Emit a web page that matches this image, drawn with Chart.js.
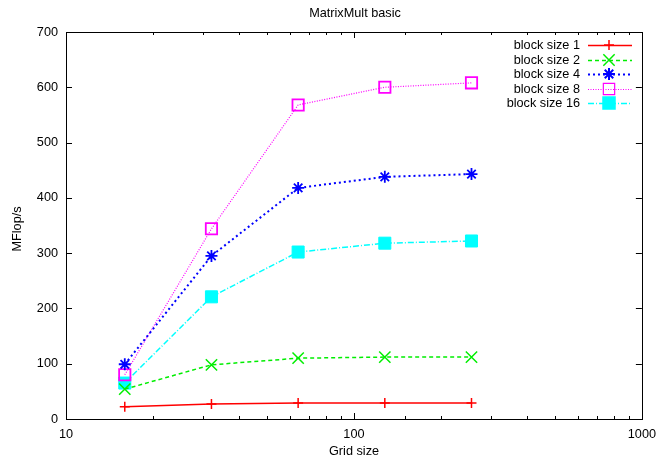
<!DOCTYPE html>
<html><head><meta charset="utf-8">
<script src="https://cdn.jsdelivr.net/npm/chart.js@4/dist/chart.umd.min.js"></script>
<style>html,body{margin:0;padding:0;background:#fff}#wrap{width:664px;height:457px}</style>
</head><body><div id="wrap"><canvas id="c" width="664" height="457"></canvas></div>
<script>
const gridSizes = [16, 32, 64, 128, 256];
const bs1  = [22, 27, 29, 29, 29];
const bs2  = [54, 98, 110, 112, 112];
const bs4  = [99, 295, 418, 438, 443];
const bs8  = [80, 344, 568, 600, 608];
const bs16 = [65, 221, 302, 318, 322];
const seriesLabels = ['block size 1','block size 2','block size 4','block size 8','block size 16'];
const xTickLabels = [10, 100, 1000];
const yTicks = [0,100,200,300,400,500,600,700];

const FONT = '"Liberation Sans", Arial, sans-serif';
const FS = 12.7;
function pts(v){ return gridSizes.map((x,i)=>({x:x,y:v[i]})); }

const styles = [
  {color:'#ff0000', dash:[], width:1.5, ps:'cross', r:5, fill:false, bw:1.5},
  {color:'#00ee00', dash:[4,3], width:1.5, ps:'crossRot', r:8, fill:false, bw:1.5},
  {color:'#0000ff', dash:[2,3], width:2, ps:'star', r:6, fill:false, bw:1.8},
  {color:'#ff00ff', dash:[1,1.5], width:1.2, ps:'rect', r:8, fill:false, bw:1.8},
  {color:'#00ffff', dash:[6,2,1,2], width:1.5, ps:'rect', r:8.5, fill:true, bw:1}
];
const data = [bs1,bs2,bs4,bs8,bs16];
const datasets = data.map((d,i)=>({
  label: seriesLabels[i],
  data: pts(d),
  borderColor: styles[i].color,
  backgroundColor: styles[i].fill ? styles[i].color : 'rgba(0,0,0,0)',
  borderDash: styles[i].dash,
  borderWidth: styles[i].width,
  pointStyle: styles[i].ps,
  pointRadius: styles[i].r,
  pointBorderWidth: styles[i].bw,
  pointBorderColor: styles[i].color,
  pointBackgroundColor: styles[i].fill ? styles[i].color : 'rgba(0,0,0,0)',
  tension: 0,
  fill: false
}));

const framePlugin = {
  id:'frame',
  afterDraw(chart){
    const ctx = chart.ctx, a = chart.chartArea;
    const xs = chart.scales.x, ys = chart.scales.y;
    ctx.save();
    ctx.strokeStyle = '#000'; ctx.lineWidth = 1; ctx.setLineDash([]);
    ctx.strokeRect(Math.round(a.left)+0.5, Math.round(a.top)+0.5, Math.round(a.right-a.left), Math.round(a.bottom-a.top));
    xs.ticks.forEach(t=>{
      const v = t.value;
      const lg = Math.log10(v);
      const major = Math.abs(lg-Math.round(lg))<1e-9;
      const L = major?6:3;
      const px = Math.round(xs.getPixelForValue(v))+0.5;
      ctx.beginPath();
      ctx.moveTo(px, a.bottom); ctx.lineTo(px, a.bottom-L);
      ctx.moveTo(px, a.top); ctx.lineTo(px, a.top+L);
      ctx.stroke();
    });
    ys.ticks.forEach(t=>{
      const py = Math.round(ys.getPixelForValue(t.value))+0.5;
      ctx.beginPath();
      ctx.moveTo(a.left, py); ctx.lineTo(a.left+6, py);
      ctx.moveTo(a.right, py); ctx.lineTo(a.right-6, py);
      ctx.stroke();
    });
    ctx.fillStyle = '#000';
    ctx.font = FS + 'px ' + FONT;
    ctx.textAlign = 'center'; ctx.textBaseline = 'middle';
    ctx.fillText('MatrixMult basic', 355, 13);
    ctx.fillText('Grid size', 354, 451);
    ctx.save();
    ctx.translate(17, 229); ctx.rotate(-Math.PI/2);
    ctx.fillText('MFlop/s', 0, 0);
    ctx.restore();
    const rows = [45, 60, 74, 89, 103];
    chart.data.datasets.forEach((ds,i)=>{
      const y = rows[i];
      ctx.fillStyle = '#000';
      ctx.textAlign = 'right';
      ctx.fillText(ds.label, 580, y);
      ctx.strokeStyle = ds.borderColor;
      ctx.lineWidth = ds.borderWidth;
      ctx.setLineDash(ds.borderDash);
      ctx.beginPath(); ctx.moveTo(588, y+0.5); ctx.lineTo(632, y+0.5); ctx.stroke();
      ctx.setLineDash([]);
      ctx.strokeStyle = ds.pointBorderColor;
      ctx.fillStyle = ds.pointBackgroundColor;
      Chart.helpers.drawPoint(ctx, {pointStyle: ds.pointStyle, radius: ds.pointRadius, rotation:0, borderWidth: ds.pointBorderWidth}, 609, y);
    });
    ctx.restore();
  }
};

new Chart(document.getElementById('c'), {
  type:'line',
  data:{datasets},
  options:{
    responsive:false, animation:false,
    layout:{padding:{top:32, right:22, left:0, bottom:0}},
    plugins:{legend:{display:false}, title:{display:false}, tooltip:{enabled:false}},
    scales:{
      x:{
        type:'logarithmic', min:10, max:1000,
        grid:{display:false, drawTicks:false}, border:{display:false},
        ticks:{autoSkip:false, maxRotation:0, padding:8, color:'#000', font:{family:FONT, size:FS},
          callback:(v)=> xTickLabels.includes(v) ? String(v) : ''},
        afterFit(s){ s.height = 38; }
      },
      y:{
        min:0, max:700,
        grid:{display:false, drawTicks:false}, border:{display:false},
        afterBuildTicks(s){ s.ticks = yTicks.map(v=>({value:v})); },
        ticks:{padding:8, color:'#000', font:{family:FONT, size:FS}},
        afterFit(s){ s.width = 66; }
      }
    }
  },
  plugins:[framePlugin]
});
</script></body></html>
